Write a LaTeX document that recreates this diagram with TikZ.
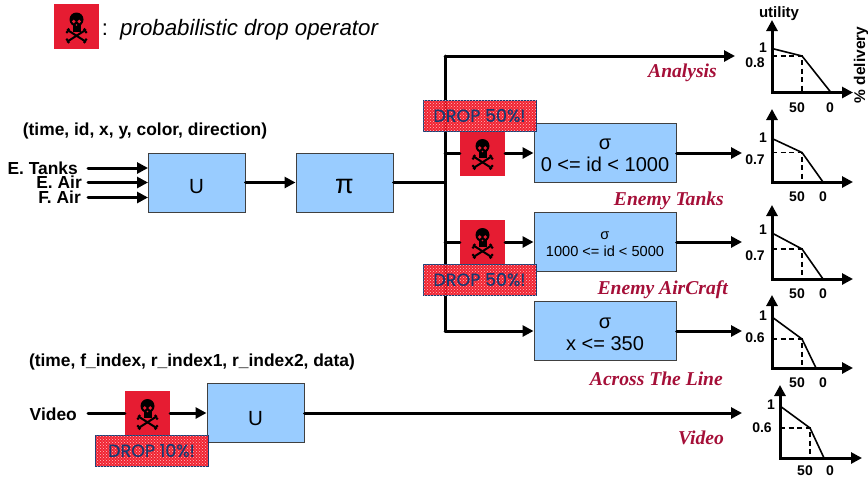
\documentclass[tikz,border=0pt]{standalone}
\usepackage{fontspec}
\setmainfont{Liberation Sans}
\newfontfamily\serifitfont{Liberation Serif}
\newfontfamily\tagfont{Poppins}[RawFeature={embolden=0.8}]
\usetikzlibrary{arrows.meta,patterns}
\definecolor{boxblue}{HTML}{99CCFF}
\definecolor{dropred}{HTML}{E61C32}
\definecolor{tagred}{HTML}{F01020}
\definecolor{tagblue}{HTML}{173A72}
\definecolor{namered}{HTML}{A50F38}
\tikzset{
	flow/.style={line width=3pt, line cap=round},
	arrow/.style={flow, -{Triangle[length=11pt,width=11pt]}},
	axis/.style={line width=3pt, line cap=rect, -{Triangle[length=11pt,width=11pt]}},
	curve/.style={line width=1.6pt},
	guide/.style={line width=1.2pt, dash pattern=on 5pt off 3.5pt},
	opbox/.style={draw=black!75, line width=1pt, fill=boxblue, minimum width=97pt, minimum height=59pt, inner sep=0pt, text height=21pt, text depth=0pt, font=\fontsize{20.5}{23}\selectfont},
	selbox/.style={draw=black!75, line width=1pt, fill=boxblue, minimum width=142pt, minimum height=59pt, inner sep=0pt, align=center, font=\fontsize{20}{22}\selectfont, execute at begin node={\rule{0pt}{#1}}},
	dropicon/.style={fill=dropred, minimum size=45pt, inner sep=0pt, path picture={
		\begin{scope}[shift={(path picture bounding box.center)}]
			\draw[black, line width=2pt, line cap=round] (-9,3.5) -- (9,15);
			\draw[black, line width=2pt, line cap=round] (-9,15) -- (9,3.5);
			\fill[black] (-9.5,5.5) circle (1.5pt) (-8,2.8) circle (1.5pt) (9.5,5.5) circle (1.5pt) (8,2.8) circle (1.5pt);
			\fill[black] (-9.5,13) circle (1.5pt) (-8,15.7) circle (1.5pt) (9.5,13) circle (1.5pt) (8,15.7) circle (1.5pt);
			\fill[black] (0,-7) circle (7pt);
			\fill[black] (-4,-3) rectangle (4,5);
			\fill[dropred] (-2.8,-5) circle (1.9pt) (2.8,-5) circle (1.9pt) (0,-1.5) circle (0.8pt);
		\end{scope}}},
	droptag/.style={draw=tagblue, line width=0.6pt, fill=tagred, fill opacity=0.92, text opacity=1, minimum width=113pt, minimum height=31pt, inner sep=0pt, text=tagblue, font=\tagfont\fontsize{17.5}{19}\selectfont,
		postaction={pattern=crosshatch dots, pattern color=white!80!tagred}},
	bold/.style={font=\fontsize{17.4}{19}\selectfont\bfseries, inner sep=0pt},
	tick/.style={font=\fontsize{14}{16}\selectfont\bfseries, inner sep=0pt},
	streamname/.style={font=\serifitfont\fontsize{19.6}{22}\selectfont\bfseries\itshape, text=namered, inner sep=0pt}
}
\begin{document}
\begin{tikzpicture}[x=1pt, y=-1pt]
	\useasboundingbox (0,0) rectangle (868,477);
	% legend
	\node (LEG) at (76.5,26.5) [dropicon] {};
	\node (LEGTXT) at (120,30) [anchor=west, inner sep=0pt, font=\fontsize{22.3}{25}\selectfont\itshape] {probabilistic drop operator};
	\node (COLON) at (105,30) [inner sep=0pt, font=\fontsize{22}{25}\selectfont] {:};

	% first query network
	\node (SCHEMA) at (145,131) [bold] {(time, id, x, y, color, direction)};
	\node (TANKS) at (78,168) [bold, anchor=east] {E. Tanks};
	\node (EAIR) at (82,182.5) [bold, anchor=east] {E. Air};
	\node (FAIR) at (81,197.5) [bold, anchor=east] {F. Air};
	\node (U1) at (196.5,182.5) [opbox] {U};
	\node (PI) at (344.5,182.5) [opbox, font=\fontsize{27}{29}\selectfont] {π};
	\draw[arrow] (88,168) -- (148,168);
	\draw[arrow] (88,182.5) -- (148,182.5);
	\draw[arrow] (88,197.5) -- (148,197.5);
	\draw[arrow] (U1) -- (PI);

	\coordinate (SPLIT) at (445,182.5);
	\coordinate (TOP) at (445,56);
	\coordinate (TAP1) at (445,153);
	\coordinate (TAP2) at (445,242);
	\coordinate (BOT) at (445,331);
	\draw[flow] (PI) -- (SPLIT);
	\draw[flow] (BOT) -- (TOP);

	\node (SEL1) at (605,153) [selbox=38pt] {σ\\0 <= id < 1000};
	\node (SEL2) at (605,242) [selbox=30pt, font=\fontsize{14.6}{17}\selectfont] {σ\\1000 <= id < 5000};
	\node (SEL3) at (605,331) [selbox=40pt] {σ\\x <= 350};
	\node (DROP1) at (482.5,153) [dropicon] {};
	\node (DROP2) at (482.5,242) [dropicon] {};
	\draw[flow] (TAP1) -- (DROP1);
	\draw[flow] (TAP2) -- (DROP2);
	\draw[arrow] (DROP1) -- (SEL1);
	\draw[arrow] (DROP2) -- (SEL2);
	\draw[arrow] (BOT) -- (SEL3);
	\node (TAG1) at (479.5,115.5) [droptag] {DROP 50\%!};
	\node (TAG2) at (479.5,279.5) [droptag] {DROP 50\%!};

	% outputs of the first network
	\coordinate (OUT0) at (735,56);
	\coordinate (OUT1) at (742,153);
	\coordinate (OUT2) at (742,242);
	\coordinate (OUT3) at (742,331);
	\draw[arrow] (TOP) -- (OUT0);
	\draw[arrow] (SEL1) -- (OUT1);
	\draw[arrow] (SEL2) -- (OUT2);
	\draw[arrow] (SEL3) -- (OUT3);
	\node (ANALYSIS) at (717,73) [streamname, anchor=east] {Analysis};
	\node (ENTANKS) at (724,201) [streamname, anchor=east] {Enemy Tanks};
	\node (ENAIR) at (728,290) [streamname, anchor=east] {Enemy AirCraft};
	\node (ACROSS) at (723,379) [streamname, anchor=east] {Across The Line};

	% video network
	\node (SCHEMAV) at (192,362) [bold] {(time, f\_index, r\_index1, r\_index2, data)};
	\node (VIDEO) at (77,414) [bold, anchor=east] {Video};
	\node (DROP3) at (147.5,413) [dropicon] {};
	\node (U2) at (255.5,413) [opbox, text height=24pt] {U};
	\coordinate (INV) at (88,413);
	\coordinate (OUT4) at (742,413);
	\draw[flow] (INV) -- (DROP3);
	\draw[arrow] (DROP3) -- (U2);
	\draw[arrow] (U2) -- (OUT4);
	\node (TAG3) at (151.5,450.5) [droptag] {DROP 10\%!};
	\node (VIDNAME) at (724,438) [streamname, anchor=east] {Video};

	% utility chart, analysis
	\coordinate (O0) at (772,92.5);
	\coordinate (Y0) at (772,20);
	\coordinate (X0) at (853,92.5);
	\coordinate (K0) at (802,56);
	\draw[guide] (O0 |- K0) -- (K0) -- (K0 |- O0);
	\draw[curve] (772,48.5) -- (K0) -- (831,92.5);
	\draw[axis] (O0) -- (Y0);
	\draw[axis] (O0) -- (X0);
	\node (UTIL) at (779,14) [tick, font=\fontsize{15}{17}\selectfont\bfseries] {utility};
	\node (DELIV) at (861,65) [tick, rotate=90, font=\fontsize{15.5}{17}\selectfont\bfseries] {\% delivery};
	\node (A0) at (763,48) [tick] {1};
	\node (B0) at (755,63) [tick] {0.8};
	\node (C0) at (797,108) [tick] {50};
	\node (D0) at (830,108) [tick] {0};

	% utility chart, enemy tanks
	\coordinate (O1) at (772,182);
	\coordinate (Y1) at (772,109);
	\coordinate (X1) at (853,182);
	\coordinate (K1) at (802,152.5);
	\draw[guide] (O1 |- K1) -- (K1) -- (K1 |- O1);
	\draw[curve] (772,138.5) -- (K1) -- (823,182);
	\draw[axis] (O1) -- (Y1);
	\draw[axis] (O1) -- (X1);
	\node (A1) at (763,138) [tick] {1};
	\node (B1) at (755,160) [tick] {0.7};
	\node (C1) at (797,197) [tick] {50};
	\node (D1) at (823,197) [tick] {0};

	% utility chart, enemy aircraft
	\coordinate (O2) at (772,279);
	\coordinate (Y2) at (772,205);
	\coordinate (X2) at (853,279);
	\coordinate (K2) at (802,249);
	\draw[guide] (O2 |- K2) -- (K2) -- (K2 |- O2);
	\draw[curve] (772,233) -- (K2) -- (823,279);
	\draw[axis] (O2) -- (Y2);
	\draw[axis] (O2) -- (X2);
	\node (A2) at (763,230) [tick] {1};
	\node (B2) at (755,256) [tick] {0.7};
	\node (C2) at (797,294) [tick] {50};
	\node (D2) at (823,294) [tick] {0};

	% utility chart, across the line
	\coordinate (O3) at (772,368);
	\coordinate (Y3) at (772,295);
	\coordinate (X3) at (853,368);
	\coordinate (K3) at (802,339);
	\draw[guide] (O3 |- K3) -- (K3) -- (K3 |- O3);
	\draw[curve] (772,317) -- (K3) -- (816,368);
	\draw[axis] (O3) -- (Y3);
	\draw[axis] (O3) -- (X3);
	\node (A3) at (763,316) [tick] {1};
	\node (B3) at (755,338) [tick] {0.6};
	\node (C3) at (797,383) [tick] {50};
	\node (D3) at (823,383) [tick] {0};

	% utility chart, video
	\coordinate (O4) at (780,458);
	\coordinate (Y4) at (780,385);
	\coordinate (X4) at (862,458);
	\coordinate (K4) at (810,428);
	\draw[guide] (O4 |- K4) -- (K4) -- (K4 |- O4);
	\draw[curve] (780,406) -- (K4) -- (824,458);
	\draw[axis] (O4) -- (Y4);
	\draw[axis] (O4) -- (X4);
	\node (A4) at (771,405) [tick] {1};
	\node (B4) at (762,428) [tick] {0.6};
	\node (C4) at (805,470.5) [tick] {50};
	\node (D4) at (830,470.5) [tick] {0};
\end{tikzpicture}
\end{document}
